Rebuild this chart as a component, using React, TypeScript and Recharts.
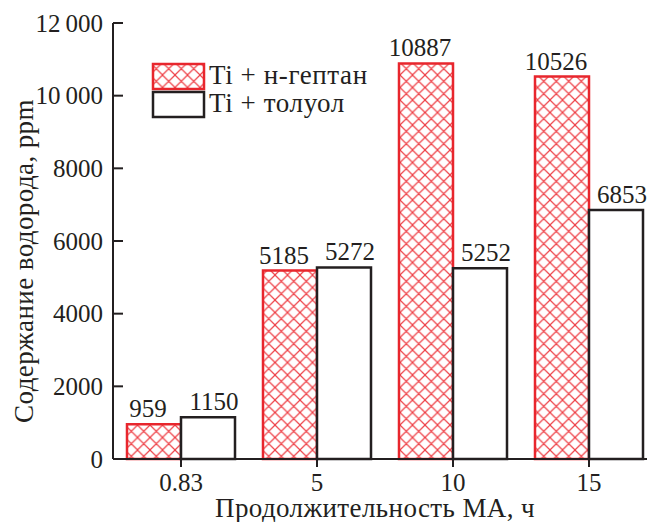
import React from 'react';
import { BarChart, Bar, XAxis, YAxis, LabelList } from 'recharts';

const durations = ['0.83', '5', '10', '15'];
const heptaneValues = [959, 5185, 10887, 10526];
const tolueneValues = [1150, 5272, 5252, 6853];
const yTicks = [0, 2000, 4000, 6000, 8000, 10000, 12000];
const seriesNames = ['Ti + н-гептан', 'Ti + толуол'];

const RED = '#e8262d';
const HATCH = '#ee4046';
const INK = '#231f20';
const FONT = 'Liberation Serif';

const chartData = durations.map((time, i) => ({
  time,
  heptane: heptaneValues[i],
  toluene: tolueneValues[i],
}));

const formatTick = (v: number) => {
  if (v >= 10000) {
    const s = String(v);
    return s.slice(0, s.length - 3) + '\u2009' + s.slice(-3);
  }
  return String(v);
};

const YTick = (props: any) => {
  const { x, y, payload } = props;
  return (
    <g>
      <line x1={x} y1={y} x2={x + 10} y2={y} stroke={INK} strokeWidth={2} />
      <text x={x - 10} y={y} dy="0.35em" textAnchor="end" fontSize={25} fontFamily={FONT} fill={INK}>
        {formatTick(payload.value)}
      </text>
    </g>
  );
};

// value labels sit a little off-centre, towards the outside of each pair
const valueLabel = (shift: number) => (props: any) => {
  const { x, y, width, value } = props;
  return (
    <text x={x + width / 2 + shift} y={y - 7} textAnchor="middle" fontSize={25} fontFamily={FONT} fill={INK}>
      {value}
    </text>
  );
};

const LegendOverlay = () => (
  <svg width={647} height={522} style={{ position: 'absolute', left: 0, top: 0, pointerEvents: 'none' }}>
    <rect x={153} y={64} width={51} height={25} fill="url(#crosshatch)" stroke={RED} strokeWidth={2.5} />
    <text x={209} y={84} fontSize={27} letterSpacing={0.6} fontFamily={FONT} fill={INK}>
      {seriesNames[0]}
    </text>
    <rect x={153} y={92} width={51} height={25} fill="#fff" stroke={INK} strokeWidth={2.5} />
    <text x={209} y={112} fontSize={27} letterSpacing={0.6} fontFamily={FONT} fill={INK}>
      {seriesNames[1]}
    </text>
  </svg>
);

export default function App() {
  return (
    <div style={{ width: 647, height: 522, overflow: 'hidden', position: 'relative', background: '#fff' }}>
      <style>{'body{margin:0}'}</style>
      <svg width={0} height={0} style={{ position: 'absolute' }}>
        <defs>
          <pattern id="crosshatch" patternUnits="userSpaceOnUse" width={12.5} height={12.5}>
            <path
              d="M0,0 L12.5,12.5 M12.5,0 L0,12.5 M-1,11.5 L1,13.5 M11.5,-1 L13.5,1 M-1,1 L1,-1 M11.5,13.5 L13.5,11.5"
              stroke={HATCH}
              strokeWidth={1.2}
              fill="none"
            />
          </pattern>
        </defs>
      </svg>
      <BarChart
        width={657}
        height={522}
        data={chartData}
        margin={{ top: 23, right: 0, left: 0, bottom: 0 }}
        barGap={0}
        barSize={54}
      >
        <XAxis
          dataKey="time"
          height={63}
          stroke={INK}
          strokeWidth={2}
          tickSize={8}
          tickMargin={6}
          tick={{ fill: INK, fontSize: 25, fontFamily: FONT }}
          label={{
            content: () => (
              <text x={375} y={517} textAnchor="middle" fontSize={27} letterSpacing={0.4} fontFamily={FONT} fill={INK}>
                Продолжительность МА, ч
              </text>
            ),
          }}
        />
        <YAxis
          width={113}
          domain={[0, 12000]}
          ticks={yTicks}
          interval={0}
          stroke={INK}
          strokeWidth={2}
          tickLine={false}
          tickSize={0}
          tickMargin={0}
          tick={<YTick />}
          label={{
            content: () => (
              <text
                x={33}
                y={261}
                transform="rotate(-90, 33, 261)"
                textAnchor="middle"
                fontSize={27}
                letterSpacing={0.4}
                fontFamily={FONT}
                fill={INK}
              >
                Содержание водорода, ppm
              </text>
            ),
          }}
        />
        <Bar dataKey="heptane" fill="url(#crosshatch)" stroke={RED} strokeWidth={2.5} isAnimationActive={false}>
          <LabelList dataKey="heptane" content={valueLabel(-6)} />
        </Bar>
        <Bar dataKey="toluene" fill="#fff" stroke={INK} strokeWidth={2.5} isAnimationActive={false}>
          <LabelList dataKey="toluene" content={valueLabel(6)} />
        </Bar>
      </BarChart>
      <LegendOverlay />
    </div>
  );
}
